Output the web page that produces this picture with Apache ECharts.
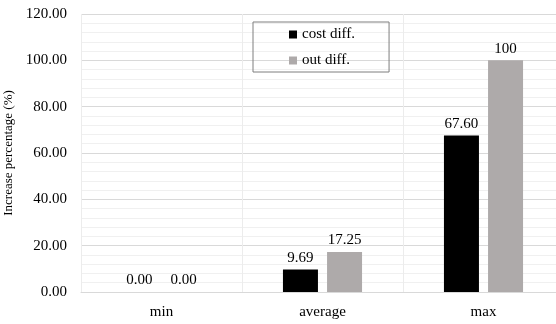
<!DOCTYPE html>
<html>
<head>
<meta charset="utf-8">
<script src="https://cdn.jsdelivr.net/npm/echarts@6/dist/echarts.min.js"></script>
<style>html,body{margin:0;padding:0;background:#fff}#c{width:556px;height:324px}</style>
</head>
<body>
<div id="c"></div>
<script>
const categories = ['min', 'average', 'max'];
const costDiff = [0.00, 9.69, 67.60];
const outDiff = [0.00, 17.25, 100];
const seriesNames = ['cost diff.', 'out diff.'];
const yAxisName = 'Increase percentage (%)';

const font = "'Liberation Serif', 'Times New Roman', serif";
const fmt = v => (v === 100 ? '100' : v.toFixed(2));

const chart = echarts.init(document.getElementById('c'), null, {renderer: 'canvas'});
chart.setOption({
  animation: false,
  backgroundColor: '#fff',
  textStyle: {fontFamily: font},
  grid: {left: 81, top: 14, bottom: 32, width: 483, containLabel: false, outerBoundsMode: 'none'},
  legend: {
    data: seriesNames,
    orient: 'vertical',
    left: 253, top: 22,
    padding: [5, 34, 4, 36],
    itemWidth: 8, itemHeight: 8, itemGap: 11,
    borderColor: '#7f7f7f', borderWidth: 1,
    icon: 'rect',
    textStyle: {fontFamily: font, fontSize: 15, color: '#000'}
  },
  xAxis: {
    type: 'category',
    data: categories,
    axisLine: {show: true, lineStyle: {color: '#d9d9d9'}},
    axisTick: {show: false},
    splitLine: {show: true, lineStyle: {color: '#ececec'}},
    axisLabel: {fontFamily: font, fontSize: 15, color: '#000', margin: 13}
  },
  yAxis: {
    type: 'value',
    min: 0, max: 120, interval: 20,
    name: yAxisName,
    nameLocation: 'middle',
    nameGap: 60,
    nameTextStyle: {fontFamily: font, fontSize: 13, color: '#000'},
    axisLine: {show: false},
    axisTick: {show: false},
    axisLabel: {fontFamily: font, fontSize: 15, color: '#000', margin: 14, formatter: v => v.toFixed(2)},
    splitLine: {show: true, lineStyle: {color: '#d9d9d9'}},
    minorTick: {show: false, splitNumber: 5},
    minorSplitLine: {show: true, lineStyle: {color: '#f0f0f0'}}
  },
  series: [
    {
      name: seriesNames[0], type: 'bar', data: costDiff,
      barWidth: 35, barGap: '26%',
      itemStyle: {color: '#000000'},
      label: {show: true, position: 'top', distance: 4, fontFamily: font, fontSize: 15, color: '#000', formatter: p => fmt(p.value)}
    },
    {
      name: seriesNames[1], type: 'bar', data: outDiff,
      barWidth: 35,
      itemStyle: {color: '#aeaaaa'},
      label: {show: true, position: 'top', distance: 4, fontFamily: font, fontSize: 15, color: '#000', formatter: p => fmt(p.value)}
    }
  ]
});
</script>
</body>
</html>
